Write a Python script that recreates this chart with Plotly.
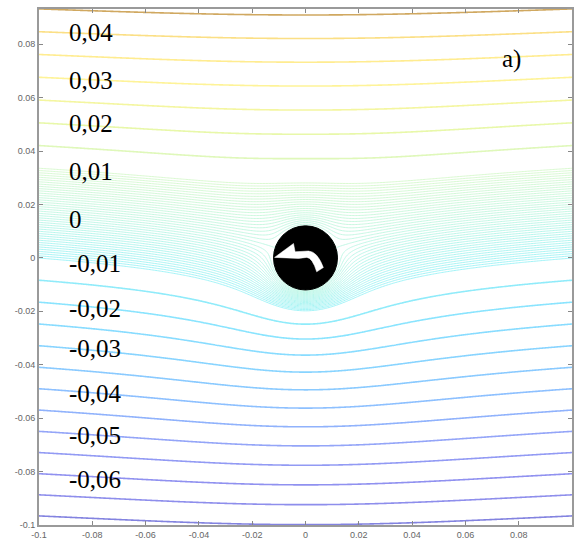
import numpy as np
import plotly.graph_objects as go

# ---- flow parameters (uniform stream + vortex around a cylinder)
U_INF = 0.61        # free-stream speed (stream-function slope)
CIRC = 0.0047       # circulation / (2*pi)
RADIUS = 0.012      # cylinder radius

# ---- contour levels of the stream function
upper_levels = dict(start=0.015, end=0.045, size=0.005)
lower_levels = dict(start=-0.075, end=-0.015, size=0.005)
fine_levels = dict(start=-0.01, end=0.01, size=0.0005)

# ---- value labels written on the left
label_texts = ["0,04", "0,03", "0,02", "0,01", "0", "-0,01", "-0,02", "-0,03", "-0,04", "-0,05", "-0,06"]
# vertical placement of those labels (data units)
label_y = [0.0844, 0.0664, 0.0504, 0.0324, 0.0145, -0.0020, -0.0188, -0.0341, -0.0506, -0.0666, -0.0830]

# ---- axes ticks
x_ticks = [-0.1, -0.08, -0.06, -0.04, -0.02, 0, 0.02, 0.04, 0.06, 0.08, 0.1]
x_tick_text = ["-0.1", "-0.08", "-0.06", "-0.04", "-0.02", "0", "0.02", "0.04", "0.06", "0.08", "0.1"]
y_ticks = [-0.1, -0.08, -0.06, -0.04, -0.02, 0, 0.02, 0.04, 0.06, 0.08]
y_tick_text = ["-0.1", "-0.08", "-0.06", "-0.04", "-0.02", "0", "0.02", "0.04", "0.06", "0.08"]

# ---- pale jet-like colours by stream-function value
color_stops = [
    (-0.075, "#4a4ab0"), (-0.07, "#8c8ce8"), (-0.06, "#9090f0"), (-0.05, "#94a4f8"),
    (-0.04, "#8cc0ff"), (-0.03, "#88d4ff"), (-0.02, "#88e4ff"), (-0.01, "#98f2f6"),
    (0.0, "#bcf6e2"), (0.01, "#d6f8cc"), (0.02, "#e8f8a8"), (0.03, "#fff498"),
    (0.04, "#ffe488"), (0.045, "#d0a860"),
]

SERIF = "Liberation Serif, Times New Roman, serif"


def hex2rgb(h):
    h = h.lstrip("#")
    return [int(h[i:i + 2], 16) for i in (0, 2, 4)]


def color_at(v):
    vs = [s[0] for s in color_stops]
    cs = [hex2rgb(s[1]) for s in color_stops]
    v = min(max(v, vs[0]), vs[-1])
    for i in range(len(vs) - 1):
        if vs[i] <= v <= vs[i + 1]:
            t = (v - vs[i]) / (vs[i + 1] - vs[i]) if vs[i + 1] > vs[i] else 0
            c = [round(cs[i][k] + t * (cs[i + 1][k] - cs[i][k])) for k in range(3)]
            return "rgb(%d,%d,%d)" % tuple(c)
    return "rgb(%d,%d,%d)" % tuple(cs[-1])


def scale_for(lv):
    n = 16
    return [[i / (n - 1), color_at(lv["start"] + (lv["end"] - lv["start"]) * i / (n - 1))] for i in range(n)]


def psi(x, y):
    r2 = np.maximum(x * x + y * y, (0.5 * RADIUS) ** 2)
    return U_INF * y * (1 - RADIUS ** 2 / r2) - CIRC * 0.5 * np.log(r2 / RADIUS ** 2)


xs = np.linspace(-0.1, 0.1, 361)
ys = np.linspace(-0.1, 0.1, 361)
X, Y = np.meshgrid(xs, ys)
Z = np.round(psi(X, Y), 6)

fig = go.Figure()
for lv, w in [(lower_levels, 1.6), (upper_levels, 1.6), (fine_levels, 0.9)]:
    fig.add_trace(go.Contour(
        x=np.round(xs, 6), y=np.round(ys, 6), z=Z,
        autocontour=False,
        contours=dict(start=lv["start"], end=lv["end"], size=lv["size"], coloring="lines"),
        colorscale=scale_for(lv), showscale=False, line=dict(width=w, smoothing=1),
        hoverinfo="skip",
    ))

# cylinder
fig.add_shape(type="circle", xref="x", yref="y", x0=-RADIUS, x1=RADIUS, y0=-RADIUS, y1=RADIUS,
              fillcolor="black", line=dict(color="black", width=1), layer="above")
# rotation arrow (white)
arrow = ("M -0.0116 0.0002 L -0.0045 0.0054 L -0.0039 0.0023 L 0.0011 0.0026 "
         "Q 0.0045 0.0024 0.0067 -0.0036 L 0.0042 -0.0052 "
         "Q 0.0026 0.0001 0.0005 0.0002 L -0.0026 -0.0002 Z")
fig.add_shape(type="path", xref="x", yref="y", path=arrow, fillcolor="white",
              line=dict(color="white", width=0.5), layer="above")

for y, t in zip(label_y, label_texts):
    fig.add_annotation(x=-0.0895, y=y, text=t, showarrow=False,
                       xanchor="left", yanchor="middle", xref="x", yref="y",
                       font=dict(family=SERIF, size=25, color="black"))

fig.add_annotation(x=0.0728, y=0.0745, text="a)", showarrow=False, xanchor="left", yanchor="middle",
                   font=dict(family=SERIF, size=25, color="black"))

axis_common = dict(showgrid=False, zeroline=False, showline=True, linecolor="#9a9a9a", linewidth=2,
                   mirror="ticks", ticks="inside", ticklen=4, tickcolor="#888", tickwidth=1,
                   tickfont=dict(family="Liberation Sans", size=9, color="#666"))
fig.update_xaxes(range=[-0.1, 0.1], tickvals=x_ticks, ticktext=x_tick_text, **axis_common)
fig.update_yaxes(range=[-0.1, 0.0932], tickvals=y_ticks, ticktext=y_tick_text, **axis_common)

fig.update_layout(width=578, height=544, margin=dict(l=39, r=4, t=9, b=19),
                  paper_bgcolor="white", plot_bgcolor="white", showlegend=False)

fig.write_html("out.html")
